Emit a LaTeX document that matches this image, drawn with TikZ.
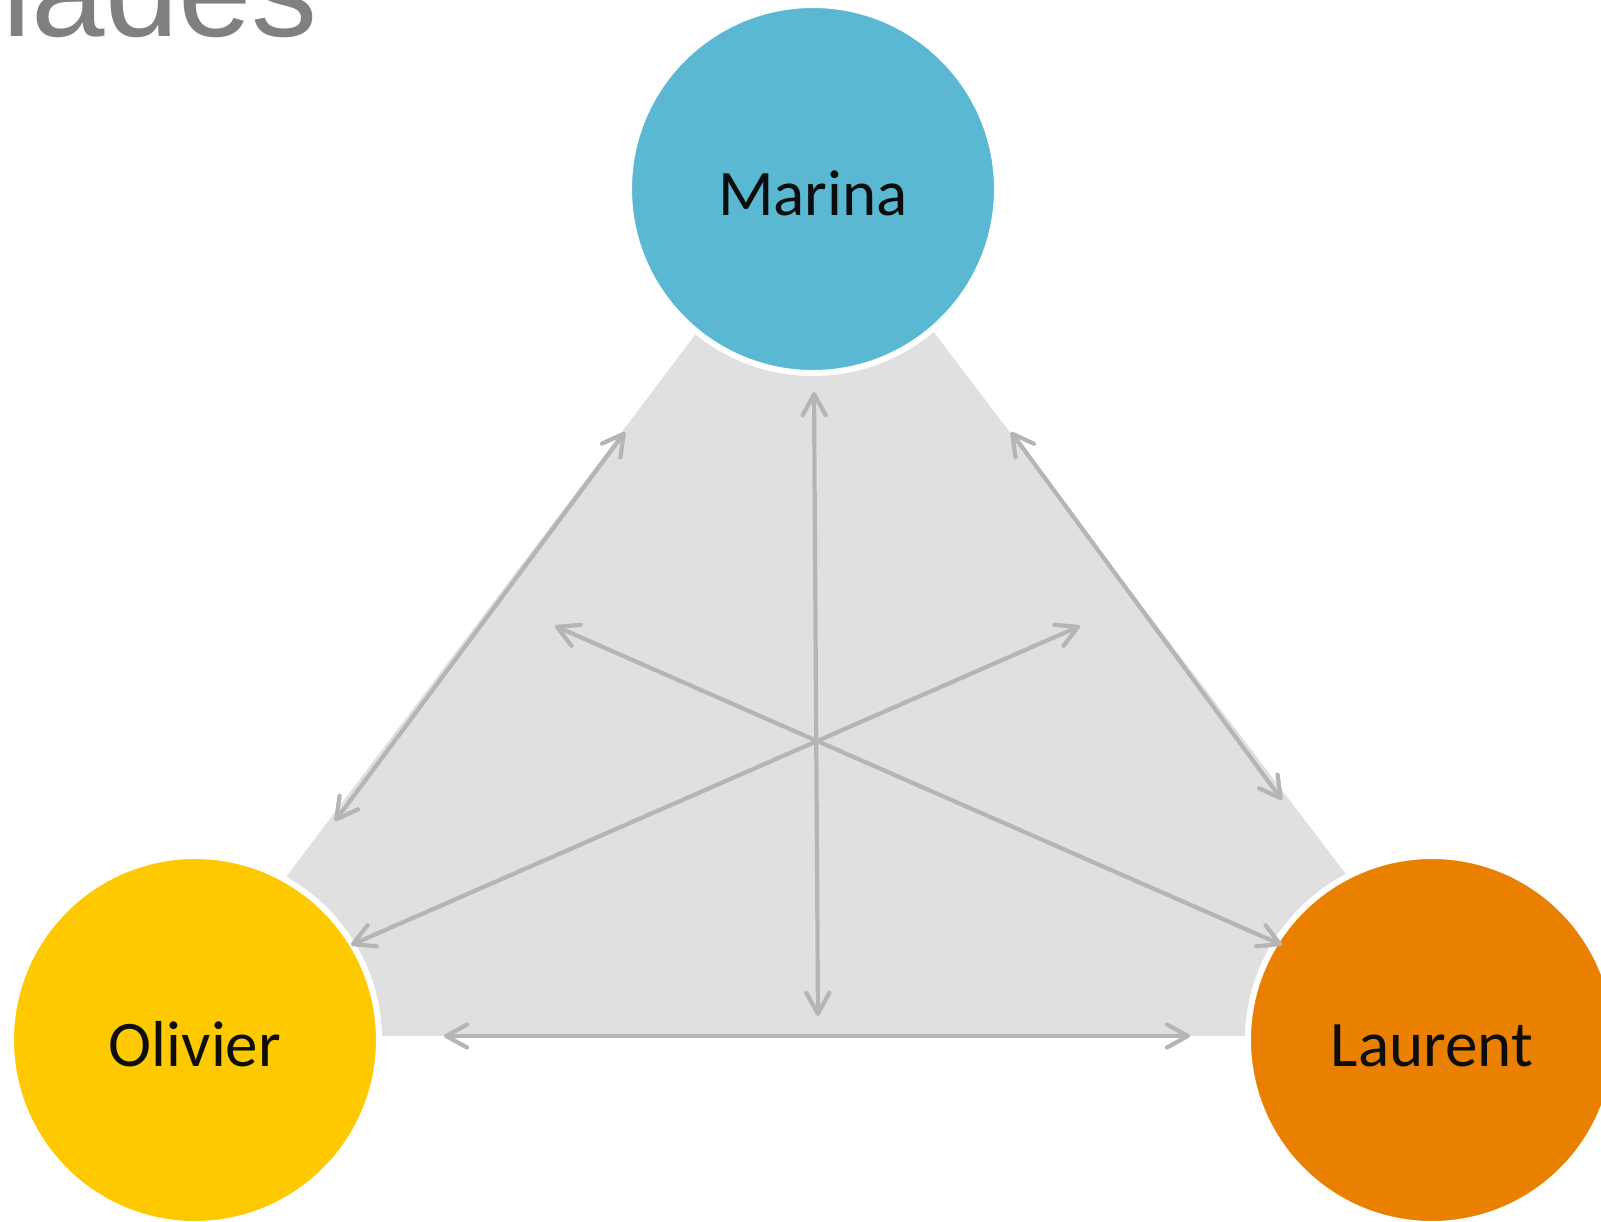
\documentclass[tikz,border=0pt]{standalone}
\usepackage{fontspec}
\setmainfont{Carlito}
\newfontfamily\headfont{Liberation Sans}
\usetikzlibrary{arrows.meta}
\definecolor{marinablue}{HTML}{5BB8D2}
\definecolor{olivieryellow}{HTML}{FFC900}
\definecolor{laurentorange}{HTML}{E98000}
\definecolor{triangray}{HTML}{E0E0E0}
\definecolor{linkgray}{HTML}{B5B5B5}
\definecolor{headgray}{HTML}{808080}
\definecolor{nametext}{HTML}{0D0D0D}

\begin{document}
\begin{tikzpicture}[x=0.5pt,y=-0.5pt,
    >={Straight Barb[length=10.5pt,width=11.5pt,round]},
    person/.style={circle,draw=white,line width=3pt,minimum size=184pt,inner sep=0pt,text=nametext,
      font=\fontsize{32.5}{39}\selectfont,text height=26pt,text depth=0pt},
    link/.style={<->,draw=linkgray,line width=2.1pt}]
                      \useasboundingbox (0,0) rectangle (1601,1221);
                      \clip (0,0) rectangle (1601,1221);

                      \node[anchor=base west,inner sep=0pt,text=headgray,font=\headfont\fontsize{66}{72}\selectfont] (title) at (2,36) {iades};

                      \fill[triangray] (815,176) -- (1469,1036) -- (166,1036) -- cycle;

                      \node[person,fill=marinablue] (marina) at (813,189) {Marina};
                      \node[person,fill=olivieryellow] (olivier) at (195,1040) {Olivier};
                      \node[person,fill=laurentorange] (laurent) at (1432,1040) {Laurent};

                      \coordinate (mtop) at (814,392);
                      \coordinate (mbot) at (818,1016);
                      \coordinate (omtop) at (625,432);
                      \coordinate (ombot) at (335,821);
                      \coordinate (lmtop) at (1011,432);
                      \coordinate (lmbot) at (1282,800);
                      \coordinate (olleft) at (444,1036);
                      \coordinate (olright) at (1190,1036);
                      \coordinate (lnw) at (555,626);
                      \coordinate (lse) at (1282,945);
                      \coordinate (one) at (1080,626);
                      \coordinate (osw) at (351,945);

                      \draw[link] (mtop) -- (mbot);
                      \draw[link] (omtop) -- (ombot);
                      \draw[link] (lmtop) -- (lmbot);
                      \draw[link] (olleft) -- (olright);
                      \draw[link] (lnw) -- (lse);
                      \draw[link] (one) -- (osw);
                    \end{tikzpicture}
\end{document}
